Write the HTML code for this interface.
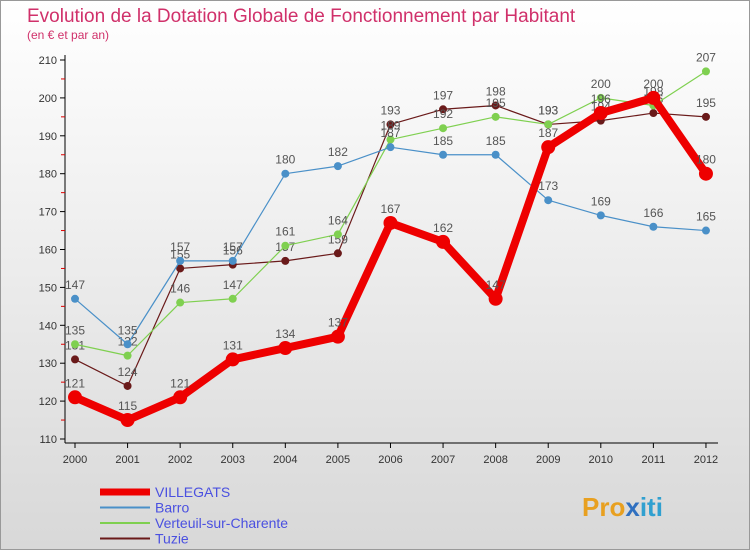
<!DOCTYPE html>
<html><head><meta charset="utf-8"><style>
body{margin:0;width:750px;height:550px;overflow:hidden;font-family:"Liberation Sans",sans-serif}
</style></head><body>
<svg width="750" height="550" xmlns="http://www.w3.org/2000/svg">
<defs><linearGradient id="bg" x1="0" y1="0" x2="0" y2="1"><stop offset="0" stop-color="#ffffff"/><stop offset="1" stop-color="#d8d8d8"/></linearGradient></defs>
<rect x="0.5" y="0.5" width="749" height="549" fill="url(#bg)" stroke="#999"/>
<text x="27" y="22" font-size="19" fill="#d0306a">Evolution de la Dotation Globale de Fonctionnement par Habitant</text>
<text x="27" y="39" font-size="12" fill="#d0306a">(en € et par an)</text>
<g id="axes"></g>
<g id="series"></g>
<g id="legend"></g>
<text x="582" y="516" font-size="26" font-weight="bold" fill="#e8a020">Pro<tspan fill="#3070c0">x</tspan><tspan fill="#30a0d0">iti</tspan></text>
</svg>
<script>
const years=[2000,2001,2002,2003,2004,2005,2006,2007,2008,2009,2010,2011,2012];
const yTicks=[110,120,130,140,150,160,170,180,190,200,210];
const villegats=[121,115,121,131,134,137,167,162,147,187,196,200,180];
const barro=[147,135,157,157,180,182,187,185,185,173,169,166,165];
const verteuil=[135,132,146,147,161,164,189,192,195,193,200,198,207];
const tuzie=[131,124,155,156,157,159,193,197,198,193,194,196,195];
const NS="http://www.w3.org/2000/svg";
const X=i=>75+i*52.58;
const Y=v=>439-(v-110)*3.79;
function mk(t,a,p){const e=document.createElementNS(NS,t);for(const k in a)e.setAttribute(k,a[k]);p.appendChild(e);return e;}
const ax=document.getElementById('axes');
const yl=mk('line',{x1:65,y1:55,x2:65,y2:443,stroke:'#000'},ax);


const xl=mk('line',{x1:65,y1:443,x2:718,y2:443,stroke:'#000'},ax);


yTicks.forEach((v,i)=>{
  mk('line',{x1:60,y1:Y(v),x2:65,y2:Y(v),stroke:'#000'},ax);
  if(i<yTicks.length-1)mk('line',{x1:61,y1:Y(v+5),x2:65,y2:Y(v+5),stroke:'#d00'},ax);
  const t=mk('text',{x:57,y:Y(v)+4,'font-size':11,'text-anchor':'end',fill:'#333'},ax);t.textContent=v;
  
  
});
years.forEach((y,i)=>{
  mk('line',{x1:X(i),y1:443,x2:X(i),y2:448,stroke:'#000'},ax);
  const t=mk('text',{x:X(i),y:463,'font-size':11,'text-anchor':'middle',fill:'#333'},ax);t.textContent=y;
  
  
});
const sg=document.getElementById('series');
function series(data,color,w,r,name){
  const g=mk('g',{},sg);
  
  
  mk('polyline',{points:data.map((v,i)=>X(i)+','+Y(v)).join(' '),fill:'none',stroke:color,'stroke-width':w,'stroke-linejoin':'round'},g);
  data.forEach((v,i)=>{
    const c=mk('circle',{cx:X(i),cy:Y(v),r:r,fill:color},g);
    
    
    const t=mk('text',{x:X(i),y:Y(v)-10,'font-size':12,'text-anchor':'middle',fill:'#555'},g);t.textContent=v;
  });
}
series(tuzie,'#6a1a1a',1.2,4,'series-tuzie');
series(verteuil,'#7fd050',1.2,4,'series-verteuil');
series(barro,'#4a90c8',1.2,4,'series-barro');
series(villegats,'#ee0000',8,7,'series-villegats');
const lg=document.getElementById('legend');
const items=[['VILLEGATS','#ee0000',7],['Barro','#4a90c8',2],['Verteuil-sur-Charente','#7fd050',2],['Tuzie','#6a1a1a',2]];
items.forEach((it,i)=>{
  const y=492+i*15.5;
  const g=mk('g',{},lg);
  
  
  mk('line',{x1:100,y1:y,x2:150,y2:y,stroke:it[1],'stroke-width':it[2]},g);
  const t=mk('text',{x:155,y:y+5,'font-size':14,fill:'#4a50e0'},g);t.textContent=it[0];
});
</script>
</body></html>
